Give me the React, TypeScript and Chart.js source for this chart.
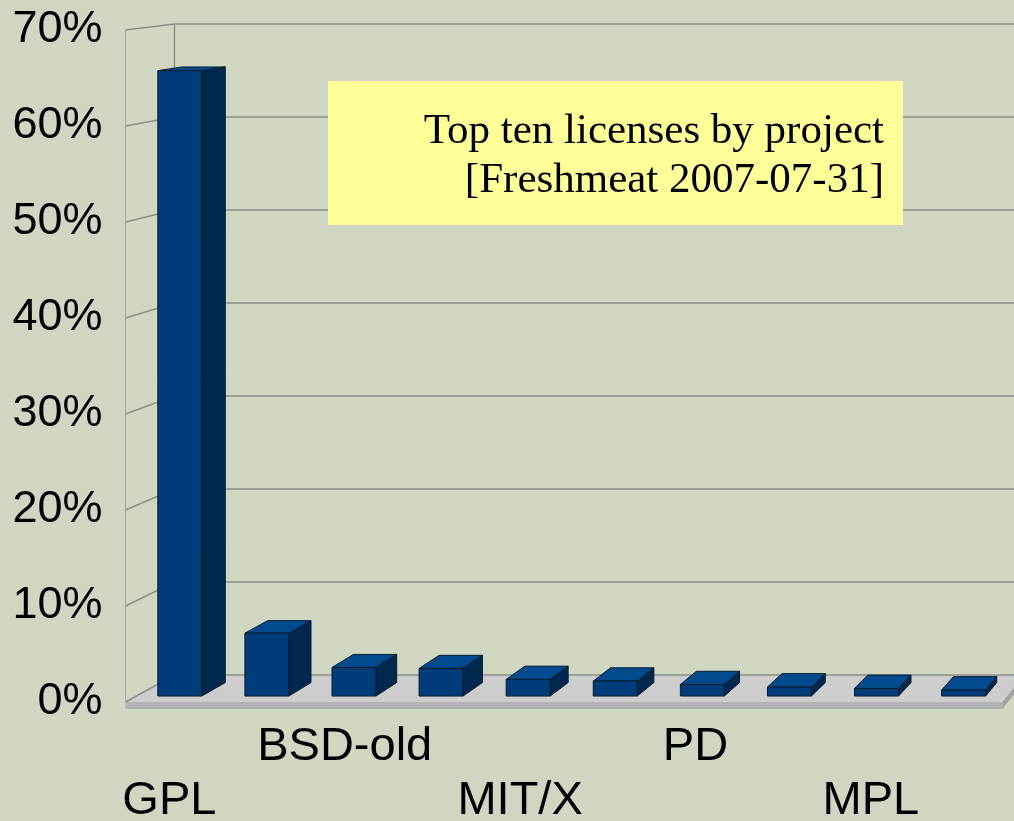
import React, { useEffect, useRef } from 'react';
import { Chart, registerables } from 'chart.js';

Chart.register(...registerables);

// ---- data ----
const categories = ['GPL', 'LGPL', 'BSD-old', 'BSD-new', 'MIT/X', 'Artistic', 'PD', 'Apache v2', 'MPL', 'Apache'];
const shares = [65.6, 6.6, 3.0, 2.9, 1.75, 1.57, 1.2, 0.95, 0.8, 0.63];
const yTicks = [0, 10, 20, 30, 40, 50, 60, 70];
const titleLines = ['Top ten licenses by project', '[Freshmeat 2007-07-31]'];

// ---- style ----
const BG = '#CFD7C2';
const GRID = '#8B9086';
const FLOOR_TOP = '#CDCDCD';
const FLOOR_FRONT = '#B3B3B3';
const FLOOR_SIDE = '#A2A2A2';
const BAR_FRONT = '#003C79';
const BAR_TOP = '#004A8D';
const BAR_SIDE = '#00284F';
const BAR_EDGE = '#0B1A2C';
const SHRINK = 0.03125; // perspective shrink at full depth
const BAR_T1 = 0.22;
const BAR_T2 = 0.72;
const FLOOR_THICK = 7;

function makeProj(a: any) {
  const VX = a.left + 1567.5;
  const VY = a.top - 192;
  return (x: number, y: number, t: number): [number, number] => {
    const s = 1 - SHRINK * t;
    return [VX + s * (x - VX), VY + s * (y - VY)];
  };
}

function poly(ctx: CanvasRenderingContext2D, pts: [number, number][], fill: string, stroke?: string) {
  ctx.beginPath();
  ctx.moveTo(pts[0][0], pts[0][1]);
  for (let i = 1; i < pts.length; i++) ctx.lineTo(pts[i][0], pts[i][1]);
  ctx.closePath();
  ctx.fillStyle = fill;
  ctx.fill();
  if (stroke) {
    ctx.strokeStyle = stroke;
    ctx.lineWidth = 1;
    ctx.lineJoin = 'round';
    ctx.stroke();
  }
}

const scenePlugin = {
  id: 'scene3d',
  beforeDraw(chart: any) {
    const { ctx, width, height, chartArea: a, scales } = chart;
    const P = makeProj(a);
    const ys = scales.y;
    ctx.save();
    ctx.fillStyle = BG;
    ctx.fillRect(0, 0, width, height);

    const y0 = ys.getPixelForValue(0);
    const extR = width + 80;
    // floor top surface
    const bl = P(a.left, y0, 1);
    const br = P(a.right, y0, 1);
    poly(ctx, [[a.left, y0], [a.right, y0], br, [extR, br[1]], [extR, bl[1]], bl], FLOOR_TOP);
    // floor front face
    poly(ctx, [[a.left, y0], [a.right, y0], [a.right, y0 + FLOOR_THICK], [a.left, y0 + FLOOR_THICK]], FLOOR_FRONT);
    // floor right side
    const brb = P(a.right, y0 + FLOOR_THICK, 1);
    poly(ctx, [[a.right, y0], br, brb, [a.right, y0 + FLOOR_THICK]], FLOOR_SIDE);

    // grid lines on left wall and back wall
    ctx.strokeStyle = GRID;
    ctx.lineWidth = 1.5;
    for (const v of yTicks) {
      const yf = ys.getPixelForValue(v);
      const b = P(a.left, yf, 1);
      ctx.beginPath();
      ctx.moveTo(a.left, yf);
      ctx.lineTo(b[0], b[1]);
      ctx.lineTo(extR, b[1]);
      ctx.stroke();
    }
    // wall edges
    const top = ys.getPixelForValue(yTicks[yTicks.length - 1]);
    const bt = P(a.left, top, 1);
    ctx.beginPath();
    ctx.moveTo(bt[0], bt[1]);
    ctx.lineTo(bl[0], bl[1]);
    ctx.stroke();
    ctx.lineWidth = 1;
    ctx.strokeStyle = '#A3A79C';
    ctx.beginPath();
    ctx.moveTo(a.left, top);
    ctx.lineTo(a.left, y0);
    ctx.stroke();
    ctx.restore();
  },
  afterDatasetsDraw(chart: any) {
    const { ctx, chartArea: a } = chart;
    const P = makeProj(a);
    const meta = chart.getDatasetMeta(0);
    ctx.save();
    meta.data.forEach((el: any) => {
      const { x, y, base, width } = el.getProps(['x', 'y', 'base', 'width'], true);
      const xl = x - width / 2;
      const xr = x + width / 2;
      const fTL = P(xl, y, BAR_T1), fTR = P(xr, y, BAR_T1);
      const fBR = P(xr, base, BAR_T1), fBL = P(xl, base, BAR_T1);
      const bTL = P(xl, y, BAR_T2), bTR = P(xr, y, BAR_T2), bBR = P(xr, base, BAR_T2);
      poly(ctx, [fTR, bTR, bBR, fBR], BAR_SIDE, BAR_EDGE);
      poly(ctx, [fTL, fTR, bTR, bTL], BAR_TOP, BAR_EDGE);
      poly(ctx, [fTL, fTR, fBR, fBL], BAR_FRONT, BAR_EDGE);
    });

    // title box
    ctx.fillStyle = '#FFFF99';
    ctx.fillRect(328, 81, 575, 144);
    ctx.fillStyle = '#000';
    ctx.font = '43px "Liberation Serif", "Times New Roman", serif';
    ctx.textAlign = 'right';
    ctx.textBaseline = 'alphabetic';
    ctx.fillText(titleLines[0], 884, 143);
    ctx.fillText(titleLines[1], 884, 192);
    ctx.restore();
  },
};

export default function App() {
  const ref = useRef<HTMLCanvasElement | null>(null);
  useEffect(() => {
    if (!ref.current) return;
    document.body.style.margin = '0';
    document.body.style.background = BG;
    const chart = new Chart(ref.current, {
      type: 'bar',
      data: {
        labels: categories,
        datasets: [
          {
            data: shares,
            backgroundColor: 'rgba(0,0,0,0)',
            borderWidth: 0,
            barPercentage: 0.505,
            categoryPercentage: 1,
          },
        ],
      },
      options: {
        responsive: false,
        animation: false,
        devicePixelRatio: 1,
        layout: { padding: { top: 30, right: 11.6, bottom: 0, left: 0 } },
        plugins: {
          legend: { display: false },
          tooltip: { enabled: false },
          title: { display: false },
        },
        scales: {
          x: {
            grid: { display: false, drawTicks: false },
            border: { display: false },
            ticks: {
              autoSkip: false,
              maxRotation: 0,
              minRotation: 0,
              padding: 18,
              color: '#000',
              font: { family: '"Liberation Sans", Arial, sans-serif', size: 47, lineHeight: 54 / 47 },
              callback: (_v: any, index: number) => {
                if (index % 2 === 1) return '';
                const l = categories[index];
                return index % 4 === 0 ? ['', l] : [l, ''];
              },
            },
            afterFit: (s: any) => {
              s.height = 119;
              s.paddingLeft = 0;
              s.paddingRight = 0;
            },
          },
          y: {
            min: 0,
            max: 70,
            grid: { display: false, drawTicks: false },
            border: { display: false },
            ticks: {
              stepSize: 10,
              padding: 23,
              color: '#000',
              font: { family: '"Liberation Sans", Arial, sans-serif', size: 45 },
              callback: (v: any) => v + '%',
            },
            afterFit: (s: any) => {
              s.width = 125.5;
              s.paddingTop = 0;
              s.paddingBottom = 0;
            },
          },
        },
      },
      plugins: [scenePlugin],
    });
    return () => chart.destroy();
  }, []);
  return (
    <div style={{ position: 'fixed', left: 0, top: 0, width: 1014, height: 821, background: BG }}>
      <canvas ref={ref} width={1014} height={821} style={{ display: 'block' }} />
    </div>
  );
}
